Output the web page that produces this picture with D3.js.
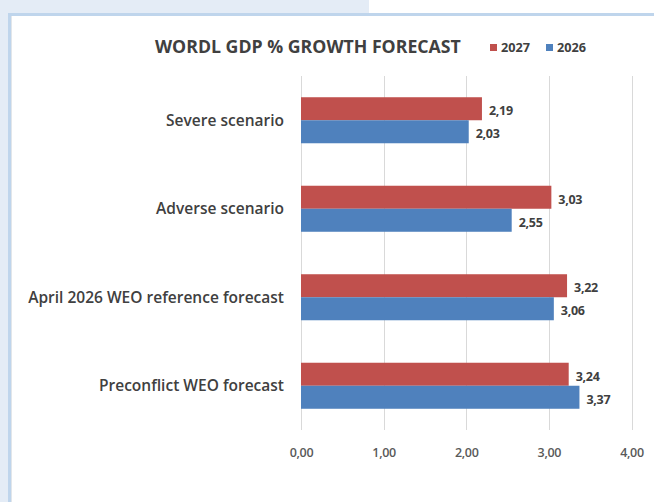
<!DOCTYPE html>
<html>
<head>
<meta charset="utf-8">
<script src="https://cdn.jsdelivr.net/npm/d3@7/dist/d3.min.js"></script>
<style>
  html, body { margin: 0; padding: 0; background: #ffffff; }
  svg { display: block; }
  text { font-family: "Open Sans", "Liberation Sans", sans-serif; }
</style>
</head>
<body>
<svg id="chart" width="654" height="502"></svg>
<script>
// ---- data ----
const title = "WORDL GDP % GROWTH FORECAST";
const categories = ["Severe scenario", "Adverse scenario", "April 2026 WEO reference forecast", "Preconflict WEO forecast"];
const seriesNames = ["2027", "2026"];
const values2027 = [2.19, 3.03, 3.22, 3.24];
const values2026 = [2.03, 2.55, 3.06, 3.37];
const xTicks = [0, 1, 2, 3, 4];
const seriesColors = ["#c0504d", "#4f81bd"];

const seriesValues = [values2027, values2026];
const rows = categories.map((c, i) => ({
  cat: c,
  vals: seriesNames.map((s, j) => ({ series: s, value: seriesValues[j][i], color: seriesColors[j] }))
}));

const locale = d3.formatLocale({ decimal: ",", thousands: ".", grouping: [3], currency: ["", "€"] });
const fmt = locale.format(".2f");

const svg = d3.select("#chart");

// ---- page frame ----
svg.append("rect").attr("x", 0).attr("y", 0).attr("width", 654).attr("height", 502).attr("fill", "#ffffff");
svg.append("rect").attr("x", 0).attr("y", 0).attr("width", 369).attr("height", 14).attr("fill", "#e4ecf6");
svg.append("rect").attr("x", 0).attr("y", 0).attr("width", 8).attr("height", 502).attr("fill", "#e4ecf6");
svg.append("rect").attr("x", 8).attr("y", 13).attr("width", 646).attr("height", 3).attr("fill", "#bfd5ec");
svg.append("rect").attr("x", 8).attr("y", 13).attr("width", 3).attr("height", 489).attr("fill", "#bfd5ec");
svg.append("rect").attr("x", 11).attr("y", 16).attr("width", 1).attr("height", 486).attr("fill", "#e2e6ea");

// helper: fit text to a target width by adjusting font size
function fitWidth(sel, target) {
  const node = sel.node();
  const w = node.getComputedTextLength();
  const fs = parseFloat(sel.attr("font-size"));
  if (w > 0) sel.attr("font-size", (fs * target / w).toFixed(2));
}

// ---- scales ----
const x = d3.scaleLinear().domain([0, 4]).range([301, 631.5]);
const y = d3.scaleBand().domain(categories).range([76, 430]).paddingInner(0.48).paddingOuter(0.24);
const ys = d3.scaleBand().domain(seriesNames).range([0, y.bandwidth()]);

// ---- gridlines ----
svg.append("g").selectAll("line").data(xTicks).join("line")
  .attr("x1", d => Math.round(x(d)) + 0.5).attr("x2", d => Math.round(x(d)) + 0.5)
  .attr("y1", 76).attr("y2", 430)
  .attr("stroke", "#d9d9d9").attr("stroke-width", 1);

// ---- bars ----
const groups = svg.append("g").selectAll("g").data(rows).join("g")
  .attr("transform", d => `translate(0,${y(d.cat)})`);
groups.selectAll("rect").data(d => d.vals).join("rect")
  .attr("x", x(0)).attr("y", d => ys(d.series))
  .attr("width", d => x(d.value) - x(0)).attr("height", ys.bandwidth())
  .attr("fill", d => d.color);

// value labels
groups.selectAll("text").data(d => d.vals).join("text")
  .attr("x", d => x(d.value) + 7)
  .attr("y", d => ys(d.series) + ys.bandwidth() / 2 + 2)
  .attr("dy", "0.35em")
  .attr("font-size", 12.5).attr("font-weight", 700).attr("fill", "#404040")
  .attr("letter-spacing", "-0.3")
  .text(d => fmt(d.value));

// ---- x axis ----
const xAxis = d3.axisBottom(x).tickValues(xTicks).tickFormat(fmt).tickSize(0).tickPadding(0);
const gx = svg.append("g").attr("transform", "translate(0,448)").call(xAxis);
gx.select(".domain").remove();
gx.selectAll("text").attr("font-size", 12.5).attr("font-weight", 600).attr("fill", "#595959")
  .attr("letter-spacing", "-0.3")
  .attr("font-family", "\"Open Sans\", sans-serif").attr("dy", "0.32em").attr("y", 5);

// ---- y axis ----
const yAxis = d3.axisLeft(y).tickSize(0).tickPadding(17);
const gy = svg.append("g").attr("transform", `translate(${x(0)},0)`).call(yAxis);
gy.select(".domain").remove();
gy.selectAll("text").attr("font-size", 14).attr("font-weight", 600).attr("fill", "#404040")
  .attr("font-family", "\"Open Sans\", sans-serif").attr("dy", "0.35em");
// fit the longest label width (~256px) and apply same size to all
const longest = gy.selectAll("text").filter(d => d === categories[2]);
fitWidth(longest, 256);
const catSize = longest.attr("font-size");
gy.selectAll("text").attr("font-size", catSize);

// ---- title ----
const t = svg.append("text").attr("x", 155).attr("y", 53)
  .attr("font-size", 16).attr("font-weight", 700).attr("fill", "#404040")
  .text(title);
fitWidth(t, 306);

// ---- legend ----
const legendX = [490, 546];
const lg = svg.append("g").selectAll("g").data(seriesNames).join("g")
  .attr("transform", (d, i) => `translate(${legendX[i]},0)`);
lg.append("rect").attr("x", 0).attr("y", 44).attr("width", 7).attr("height", 7)
  .attr("fill", (d, i) => seriesColors[i]);
lg.append("text").attr("x", 11).attr("y", 48).attr("dy", "0.35em")
  .attr("font-size", 10.5).attr("font-weight", 700).attr("fill", "#404040")
  .text(d => d)
  .each(function() { fitWidth(d3.select(this), 29); });
</script>
</body>
</html>
